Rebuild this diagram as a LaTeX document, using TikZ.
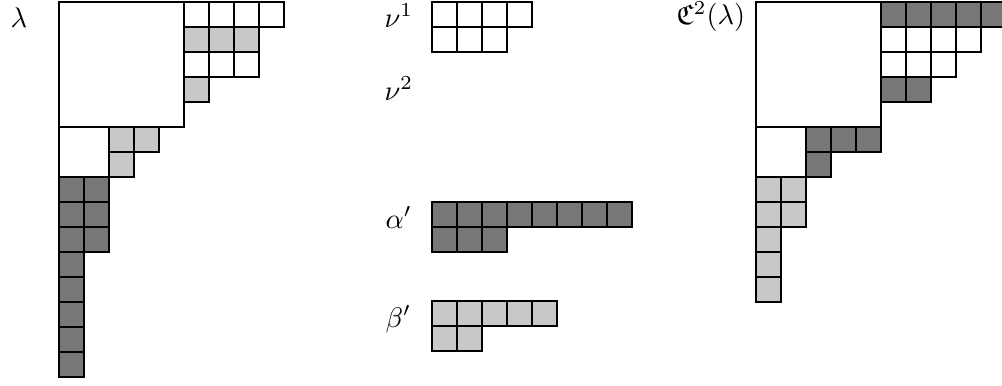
\documentclass[tikz,border=0pt]{standalone}
\usepackage{amsmath,amssymb}
\definecolor{darkcell}{HTML}{777777}
\definecolor{lightcell}{HTML}{C8C8C8}
\tikzset{
  wc/.style={draw=black, fill=white, line width=0.45pt},
  dc/.style={draw=black, fill=darkcell, line width=0.45pt},
  lc/.style={draw=black, fill=lightcell, line width=0.45pt},
  lbl/.style={inner sep=0pt, anchor=base west, scale=0.85},
  diag/.style={x=7.5pt, y=-7.5pt}
}
\newcommand\cellrow[4]{\foreach \c in {#2,...,#3} {\draw[#4] (\c,#1) rectangle ++(1,1);}}
\begin{document}
\begin{tikzpicture}[x=0.3pt, y=-0.3pt]
\useasboundingbox (0,0) rectangle (1002,385);
% labels
\node[lbl] (lam) at (10,27) {$\lambda$};
\node[lbl] (nu1) at (384,27) {$\nu^1$};
\node[lbl] (nu2) at (384,100) {$\nu^2$};
\node[lbl] (alp) at (385,228) {$\alpha'$};
\node[lbl] (bet) at (385,327) {$\beta'$};
\node[lbl] (clam) at (676,25) {$\mathfrak{C}^2(\lambda)$};
% lambda
\begin{scope}[shift={(59,2)}, diag]
  \draw[wc] (0,0) rectangle (5,5);
  \cellrow{0}{5}{8}{wc}
  \cellrow{1}{5}{7}{lc}
  \cellrow{2}{5}{7}{wc}
  \cellrow{3}{5}{5}{lc}
  \draw[wc] (0,5) rectangle (2,7);
  \cellrow{5}{2}{3}{lc}
  \cellrow{6}{2}{2}{lc}
  \foreach \r in {7,8,9} {\cellrow{\r}{0}{1}{dc}}
  \foreach \r in {10,...,14} {\cellrow{\r}{0}{0}{dc}}
\end{scope}
% nu1
\begin{scope}[shift={(432,2)}, diag]
  \cellrow{0}{0}{3}{wc}
  \cellrow{1}{0}{2}{wc}
\end{scope}
% alpha'
\begin{scope}[shift={(432,202)}, diag]
  \cellrow{0}{0}{7}{dc}
  \cellrow{1}{0}{2}{dc}
\end{scope}
% beta'
\begin{scope}[shift={(432,301)}, diag]
  \cellrow{0}{0}{4}{lc}
  \cellrow{1}{0}{1}{lc}
\end{scope}
% C^2(lambda)
\begin{scope}[shift={(756,2)}, diag]
  \draw[wc] (0,0) rectangle (5,5);
  \cellrow{0}{5}{9}{dc}
  \cellrow{1}{5}{8}{wc}
  \cellrow{2}{5}{7}{wc}
  \cellrow{3}{5}{6}{dc}
  \draw[wc] (0,5) rectangle (2,7);
  \cellrow{5}{2}{4}{dc}
  \cellrow{6}{2}{2}{dc}
  \foreach \r in {7,8} {\cellrow{\r}{0}{1}{lc}}
  \foreach \r in {9,10,11} {\cellrow{\r}{0}{0}{lc}}
\end{scope}
\end{tikzpicture}
\end{document}
